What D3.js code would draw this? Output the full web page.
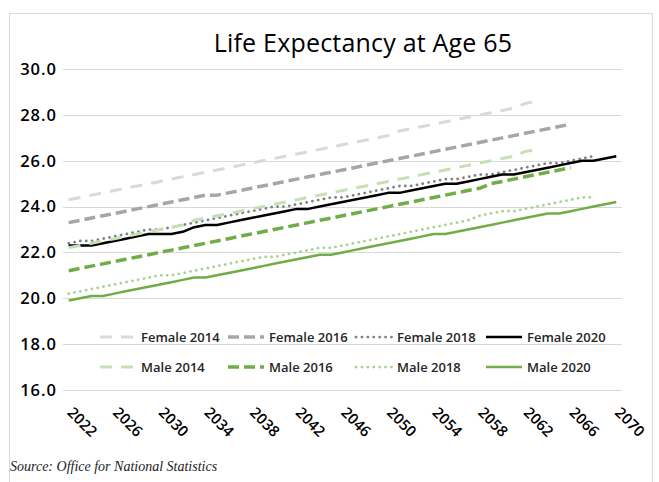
<!DOCTYPE html>
<html><head><meta charset="utf-8">
<script src="https://cdn.jsdelivr.net/npm/d3@7"></script>
<style>body{margin:0;background:#fff;} svg{display:block;}</style>
</head><body><svg id="c" width="659" height="482"></svg>
<script>
// ---- data ----
const years = [2022,2023,2024,2025,2026,2027,2028,2029,2030,2031,2032,2033,2034,2035,2036,2037,2038,2039,2040,2041,2042,2043,2044,2045,2046,2047,2048,2049,2050,2051,2052,2053,2054,2055,2056,2057,2058,2059,2060,2061,2062,2063,2064,2065,2066,2067,2068,2069,2070];
const tickLabels = [2022,2026,2030,2034,2038,2042,2046,2050,2054,2058,2062,2066,2070];
const yTicks = [16,18,20,22,24,26,28,30];
const seriesNames = ["Female 2014","Female 2016","Female 2018","Female 2020","Male 2014","Male 2016","Male 2018","Male 2020"];

const female2014 = [24.3,24.4,24.5,24.6,24.7,24.8,24.9,25.0,25.1,25.2,25.3,25.4,25.5,25.6,25.7,25.8,25.9,26.0,26.1,26.2,26.3,26.4,26.5,26.6,26.7,26.8,26.9,27.0,27.1,27.3,27.4,27.5,27.6,27.7,27.8,27.9,28.0,28.1,28.2,28.3,28.5,28.6];
const female2016 = [23.3,23.4,23.5,23.6,23.7,23.8,23.9,24.0,24.1,24.2,24.3,24.4,24.5,24.5,24.6,24.7,24.8,24.9,25.0,25.1,25.2,25.3,25.4,25.5,25.6,25.7,25.8,25.9,26.0,26.1,26.2,26.3,26.4,26.5,26.6,26.7,26.8,26.9,27.0,27.1,27.2,27.3,27.4,27.5,27.6];
const female2018 = [22.4,22.5,22.5,22.6,22.7,22.8,22.9,23.0,23.0,23.1,23.2,23.3,23.4,23.5,23.6,23.7,23.8,23.9,24.0,24.0,24.1,24.2,24.3,24.4,24.4,24.5,24.6,24.7,24.8,24.9,24.9,25.0,25.1,25.2,25.2,25.3,25.4,25.4,25.5,25.6,25.7,25.8,25.9,25.9,26.0,26.1,26.2];
const female2020 = [22.3,22.3,22.3,22.4,22.5,22.6,22.7,22.8,22.8,22.8,22.9,23.1,23.2,23.2,23.3,23.4,23.5,23.6,23.7,23.8,23.9,23.9,24.0,24.1,24.2,24.3,24.4,24.5,24.6,24.6,24.7,24.8,24.9,25.0,25.0,25.1,25.2,25.3,25.4,25.4,25.5,25.6,25.7,25.8,25.9,26.0,26.0,26.1,26.2];
const male2014 = [22.2,22.3,22.4,22.5,22.6,22.7,22.8,22.9,23.0,23.1,23.2,23.4,23.5,23.6,23.7,23.8,23.9,24.0,24.1,24.2,24.3,24.4,24.5,24.6,24.7,24.8,24.9,25.0,25.1,25.2,25.3,25.4,25.5,25.6,25.7,25.8,25.9,26.0,26.1,26.2,26.4,26.5];
const male2016 = [21.2,21.3,21.4,21.5,21.6,21.7,21.8,21.9,22.0,22.1,22.2,22.3,22.4,22.5,22.6,22.7,22.8,22.9,23.0,23.1,23.2,23.3,23.4,23.5,23.6,23.7,23.8,23.9,24.0,24.1,24.2,24.3,24.4,24.5,24.6,24.7,24.8,25.0,25.1,25.2,25.3,25.4,25.5,25.6,25.7];
const male2018 = [20.2,20.3,20.4,20.5,20.6,20.7,20.8,20.9,21.0,21.0,21.1,21.2,21.3,21.4,21.5,21.6,21.7,21.8,21.8,21.9,22.0,22.1,22.2,22.2,22.3,22.4,22.5,22.6,22.7,22.8,22.9,23.0,23.1,23.2,23.3,23.4,23.6,23.7,23.8,23.8,23.9,24.0,24.1,24.2,24.3,24.4,24.4];
const male2020 = [19.9,20.0,20.1,20.1,20.2,20.3,20.4,20.5,20.6,20.7,20.8,20.9,20.9,21.0,21.1,21.2,21.3,21.4,21.5,21.6,21.7,21.8,21.9,21.9,22.0,22.1,22.2,22.3,22.4,22.5,22.6,22.7,22.8,22.8,22.9,23.0,23.1,23.2,23.3,23.4,23.5,23.6,23.7,23.7,23.8,23.9,24.0,24.1,24.2];

const seriesValues = [female2014,female2016,female2018,female2020,male2014,male2016,male2018,male2020];

// ---- styles ----
const styles = [
  {color:"#d9d9d9", width:3,   dash:"12,9",   cap:"butt"},
  {color:"#a6a6a6", width:3.5, dash:"11,5",   cap:"butt"},
  {color:"#7f7f7f", width:2.75,dash:"0.1,5.8",cap:"round"},
  {color:"#000000", width:2.5, dash:null,     cap:"butt"},
  {color:"#c5e0b4", width:3,   dash:"12,9",   cap:"butt"},
  {color:"#70ad47", width:3.5, dash:"11,5",   cap:"butt"},
  {color:"#a9d18e", width:2.75,dash:"0.1,5.8",cap:"round"},
  {color:"#70ad47", width:2.5, dash:null,     cap:"butt"}
];

const svg = d3.select("#c");
const pLeft = 63, pRight = 622, pTop = 69.2, pBottom = 389.8;

svg.append("rect").attr("x",9.5).attr("y",13.5).attr("width",643).attr("height",490)
  .attr("fill","#fff").attr("stroke","#d9d9d9").attr("stroke-width",1);

const x = d3.scalePoint().domain(years).range([pLeft,pRight]).padding(0.5);
const y = d3.scaleLinear().domain([16,30]).range([pBottom,pTop]);

// gridlines
svg.append("g").selectAll("line").data(yTicks).join("line")
  .attr("x1",pLeft).attr("x2",pRight)
  .attr("y1",d=>Math.round(y(d))+0.5).attr("y2",d=>Math.round(y(d))+0.5)
  .attr("stroke","#d9d9d9").attr("stroke-width",1);

// y axis labels
const ya = svg.append("g").attr("transform",`translate(${pLeft},0)`)
  .call(d3.axisLeft(y).tickValues(yTicks).tickFormat(d3.format(".1f")).tickSize(0).tickPadding(6));
ya.select(".domain").remove();
ya.selectAll("text").attr("font-family","'Open Sans', sans-serif").attr("font-size",16.5)
  .attr("font-weight",600).attr("fill","#000").attr("letter-spacing","1px");

// x axis labels
const xa = svg.append("g").attr("transform",`translate(0,${pBottom})`)
  .call(d3.axisBottom(x).tickValues(tickLabels).tickSize(0));
xa.select(".domain").remove();
xa.selectAll("text").attr("x",0).attr("y",0).attr("dy","0.35em")
  .attr("text-anchor","start")
  .attr("transform","translate(1,20) rotate(45)")
  .attr("font-family","'Open Sans', sans-serif").attr("font-size",15)
  .attr("font-weight",600).attr("fill","#000");

// lines
const line = d3.line().x((d,i)=>x(years[i])).y(d=>y(d));
seriesValues.forEach((vals,k)=>{
  const s = styles[k];
  svg.append("path").datum(vals).attr("d",line)
    .attr("fill","none").attr("stroke",s.color).attr("stroke-width",s.width)
    .attr("stroke-dasharray",s.dash).attr("stroke-linecap",s.cap)
    .attr("stroke-linejoin","round");
});

// legend
const legX = [100,228,356,486], legY = [337,367];
seriesNames.forEach((n,k)=>{
  const s = styles[k];
  const lx = legX[k%4], ly = legY[Math.floor(k/4)];
  svg.append("line").attr("x1",lx).attr("x2",lx+36).attr("y1",ly).attr("y2",ly)
    .attr("stroke",s.color).attr("stroke-width",s.width)
    .attr("stroke-dasharray",s.dash).attr("stroke-linecap",s.cap);
  svg.append("text").attr("x",lx+41).attr("y",ly).attr("dy","0.35em")
    .attr("font-family","'Open Sans', sans-serif").attr("font-size",13)
    .attr("font-weight",600).attr("fill","#262626").text(n);
});

// title
svg.append("text").attr("x",363).attr("y",52).attr("text-anchor","middle")
  .attr("font-family","'Open Sans', sans-serif").attr("font-size",25)
  .attr("font-weight",500).attr("fill","#000").attr("letter-spacing","0.2px")
  .text("Life Expectancy at Age 65");

// source
svg.append("text").attr("x",10).attr("y",471)
  .attr("font-family","'Liberation Serif', serif").attr("font-style","italic")
  .attr("font-size",14).attr("fill","#222").text("Source: Office for National Statistics");
</script></body></html>
